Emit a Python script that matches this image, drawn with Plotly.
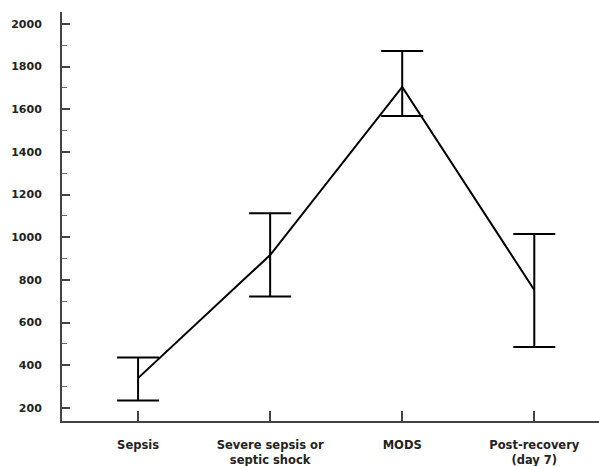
import plotly.graph_objects as go

categories = ["Sepsis", "Severe sepsis or<br>septic shock", "MODS", "Post-recovery<br>(day 7)"]
means = [340, 917, 1705, 753]
upper = [437, 1113, 1873, 1016]
lower = [235, 722, 1569, 486]

x = list(range(len(categories)))
err_plus = [u - m for u, m in zip(upper, means)]
err_minus = [m - l for m, l in zip(means, lower)]

fig = go.Figure()
fig.add_trace(go.Scatter(
    x=x, y=means, mode="lines",
    line=dict(color="black", width=2),
    error_y=dict(type="data", symmetric=False, array=err_plus, arrayminus=err_minus,
                 color="black", thickness=2, width=21),
    showlegend=False, hoverinfo="skip",
))

y_font = dict(family="DejaVu Sans", size=11, color="#222222", weight="bold")
x_font = dict(family="DejaVu Sans", size=11.5, color="#222222", weight="bold")

fig.update_layout(
    width=599, height=466,
    margin=dict(l=62, r=0, t=12, b=45),
    paper_bgcolor="white", plot_bgcolor="white",
    xaxis=dict(
        range=[-0.576, 3.49], tickvals=x, ticktext=categories,
        showline=True, linecolor="#444444", linewidth=2,
        ticks="inside", ticklen=10, tickwidth=2, tickcolor="#444444",
        showgrid=False, zeroline=False, tickfont=x_font,
        ticklabelstandoff=12, automargin=False,
    ),
    yaxis=dict(
        range=[139, 2056], tick0=0, dtick=200,
        showline=True, linecolor="#444444", linewidth=2,
        ticks="inside", ticklen=8, tickwidth=2, tickcolor="#444444",
        minor=dict(tick0=0, dtick=100, ticks="inside", ticklen=5, tickwidth=1, tickcolor="#666666"),
        showgrid=False, zeroline=False, tickfont=y_font,
        ticklabelstandoff=16, automargin=False,
    ),
)

fig.write_html("out.html", config={"displayModeBar": False},
               post_script="document.body.style.margin='0';document.body.style.overflow='hidden';")
